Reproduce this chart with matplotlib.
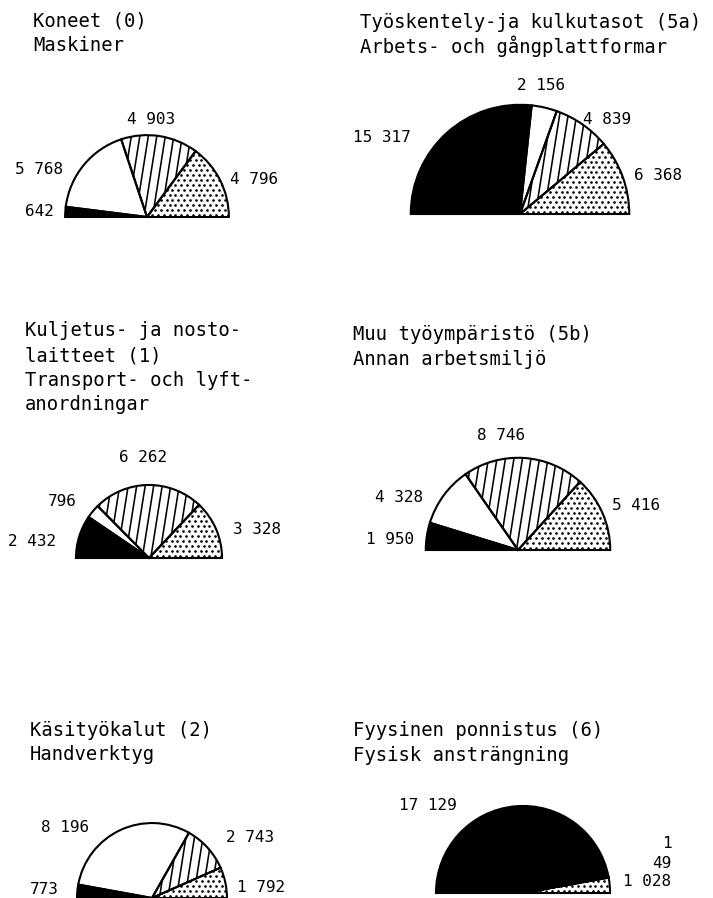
import numpy as np
import matplotlib.pyplot as plt
from matplotlib.collections import LineCollection
from matplotlib.patches import Wedge

# accidents by cause, split into four groups (black, white, striped, dotted)
titles = [
    ["Koneet (0)", "Maskiner"],
    ["Työskentely-ja kulkutasot (5a)", "Arbets- och gångplattformar"],
    ["Kuljetus- ja nosto-", "laitteet (1)", "Transport- och lyft-", "anordningar"],
    ["Muu työympäristö (5b)", "Annan arbetsmiljö"],
    ["Käsityökalut (2)", "Handverktyg"],
    ["Fyysinen ponnistus (6)", "Fysisk ansträngning"],
]
black = [642, 15317, 2432, 1950, 773, 17129]
white = [5768, 2156, 796, 4328, 8196, 1]
striped = [4903, 4839, 6262, 8746, 2743, 49]
dotted = [4796, 6368, 3328, 5416, 1792, 1028]

W, H = 713, 898
k_rad = 0.645  # radius = k * sqrt(total), area ~ total

# layout in pixels (y down)
title_xy = [(33, 21), (360, 22), (25, 331), (353, 335), (30, 730), (353, 731)]
centers = [(147, 217), (520, 214), (149, 558), (518, 550), (152, 898), (523, 893)]
label_xy = [
    [(39, 211), (39, 170), (151, 119), (254, 180)],
    [(382, 138), (541, 86), (607, 119), (658, 175)],
    [(32, 542), (62, 501), (143, 458), (257, 530)],
    [(390, 540), (399, 497), (501, 436), (636, 505)],
    [(44, 890), (65, 828), (250, 837), (261, 888)],
    [(428, 806), (667, 844), (662, 863), (647, 882)],
]

font = "DejaVu Sans Mono"

fig = plt.figure(figsize=(W / 100, H / 100), dpi=100)
ax = fig.add_axes([0, 0, 1, 1])


def fmt(v):
    return f"{v:,}".replace(",", " ")


for i in range(6):
    vals = [black[i], white[i], striped[i], dotted[i]]
    tot = sum(vals)
    r = k_rad * np.sqrt(tot)
    cx, cy = centers[i][0], H - centers[i][1]

    # extra invisible slice = lower half of the circle
    wedges, _ = ax.pie(vals + [tot], center=(cx, cy), radius=r,
                       startangle=180, counterclock=False,
                       colors=["black", "white", "white", "white", "none"],
                       wedgeprops=dict(edgecolor="none", linewidth=0),
                       frame=True)
    wedges[-1].set_visible(False)

    # steep stripes
    slant = np.tan(np.radians(81))
    segs = []
    for x0 in np.arange(cx - 1.5 * r, cx + 1.5 * r, 8.5):
        segs.append([(x0, cy - 5), (x0 + (r + 10) / slant, cy + r + 5)])
    lc = LineCollection(segs, colors="black", linewidths=1.15, zorder=3)
    ax.add_collection(lc)
    lc.set_clip_path(wedges[2])

    # staggered dots
    pts = []
    for n, yy in enumerate(np.arange(cy + 2.5, cy + r, 5.0)):
        off = 2.9 if n % 2 else 0
        for xx in np.arange(cx - r + off, cx + r, 5.8):
            pts.append((xx, yy))
    pts = np.array(pts)
    sc = ax.scatter(pts[:, 0], pts[:, 1], s=3.6, c="black",
                    marker="o", linewidths=0, zorder=3)
    sc.set_clip_path(wedges[3])

    # outlines on top
    for w in wedges[:-1]:
        ax.add_patch(Wedge(w.center, w.r, w.theta1, w.theta2,
                           facecolor="none", edgecolor="black",
                           linewidth=1.5, zorder=5))

    for j, v in enumerate(vals):
        lx, ly = label_xy[i][j]
        ax.text(lx, H - ly, fmt(v), ha="center", va="center",
                fontsize=11.5, family=font)

    tx, ty = title_xy[i]
    for n, line in enumerate(titles[i]):
        ax.text(tx, H - ty - n * 24.5, line, ha="left", va="center",
                fontsize=13.6, family=font)

ax.set_xlim(0, W)
ax.set_ylim(0, H)
ax.set_aspect("equal")
ax.axis("off")

fig.savefig("out.png", dpi=100)
